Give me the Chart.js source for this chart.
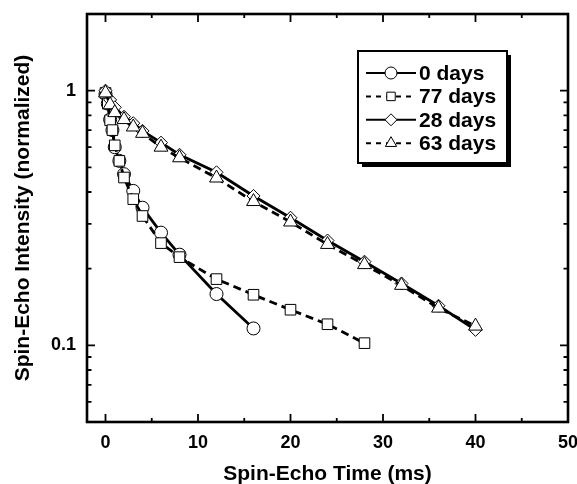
<!DOCTYPE html>
<html><head><meta charset="utf-8">
<script src="https://cdn.jsdelivr.net/npm/chart.js@4/dist/chart.umd.min.js"></script>
<style>html,body{margin:0;padding:0;background:#fff}</style>
</head><body>
<canvas id="c" width="577" height="484"></canvas>
<script>
// ---- data ----
const seriesLabels = ['0 days', '77 days', '28 days', '63 days'];
const t0  = [0, 0.25, 0.5, 0.75, 1, 1.5, 2, 3, 4, 6, 8, 12, 16];
const v0  = [0.97, 0.89, 0.77, 0.70, 0.60, 0.53, 0.47, 0.404, 0.347, 0.277, 0.227, 0.159, 0.1165];
const t77 = [0, 0.25, 0.5, 0.75, 1, 1.5, 2, 3, 4, 6, 8, 12, 16, 20, 24, 28];
const v77 = [0.98, 0.89, 0.765, 0.70, 0.61, 0.53, 0.456, 0.375, 0.322, 0.252, 0.222, 0.182, 0.158, 0.138, 0.121, 0.102];
const t28 = [0, 0.5, 1, 2, 3, 4, 6, 8, 12, 16, 20, 24, 28, 32, 36, 40];
const v28 = [1.0, 0.92, 0.86, 0.79, 0.745, 0.695, 0.625, 0.56, 0.478, 0.386, 0.317, 0.258, 0.213, 0.175, 0.143, 0.115];
const t63 = [0, 0.5, 1, 2, 3, 4, 6, 8, 12, 16, 20, 24, 28, 32, 36, 40];
const v63 = [0.98, 0.88, 0.82, 0.77, 0.72, 0.68, 0.60, 0.545, 0.454, 0.367, 0.305, 0.249, 0.2075, 0.172, 0.140, 0.119];
const xTickValues = [0, 10, 20, 30, 40, 50];
const yTickValues = [0.1, 1];
const yTickLabels = ['0.1', '1'];

const FAMILY = 'Arial, "Liberation Sans", Helvetica, sans-serif';
const pts = (t, v) => t.map((x, i) => ({x: x, y: v[i]}));

const styles = [
  {pointStyle: 'circle',   radius: 6.5, dash: [],     lr: 6},
  {pointStyle: 'rect',     radius: 7.5, dash: [8, 5], lr: 6},
  {pointStyle: 'rectRot',  radius: 6.5, dash: [],     lr: 6},
  {pointStyle: 'triangle', radius: 8,   dash: [8, 5], lr: 6.5}
];
const series = [pts(t0, v0), pts(t77, v77), pts(t28, v28), pts(t63, v63)];

const datasets = series.map((d, i) => ({
  label: seriesLabels[i],
  data: d,
  order: 4 - i,
  borderColor: '#000',
  borderWidth: 2.8,
  borderDash: styles[i].dash,
  tension: 0,
  fill: false,
  pointStyle: styles[i].pointStyle,
  pointRadius: styles[i].radius,
  pointBackgroundColor: '#fff',
  pointBorderColor: '#000',
  pointBorderWidth: 1,
  legendRadius: styles[i].lr
}));

function marker(c, style, r, x, y) {
  c.beginPath();
  if (style === 'circle') {
    c.arc(x, y, r, 0, Math.PI * 2);
  } else if (style === 'rect') {
    const s = r * Math.SQRT1_2;
    c.rect(x - s, y - s, 2 * s, 2 * s);
  } else if (style === 'rectRot') {
    c.moveTo(x - r, y); c.lineTo(x, y - r); c.lineTo(x + r, y); c.lineTo(x, y + r); c.closePath();
  } else if (style === 'triangle') {
    c.moveTo(x, y - r);
    c.lineTo(x + Math.sin(2 * Math.PI / 3) * r, y - Math.cos(2 * Math.PI / 3) * r);
    c.lineTo(x + Math.sin(4 * Math.PI / 3) * r, y - Math.cos(4 * Math.PI / 3) * r);
    c.closePath();
  }
  c.fillStyle = '#fff'; c.fill();
  c.strokeStyle = '#000'; c.lineWidth = 1; c.stroke();
}

const framePlugin = {
  id: 'frameTicks',
  afterDraw(chart) {
    const c = chart.ctx, a = chart.chartArea, x = chart.scales.x, y = chart.scales.y;
    c.save();
    c.strokeStyle = '#000';
    c.lineWidth = 1.8;
    c.beginPath();
    const xt = (v, len) => {
      const p = x.getPixelForValue(v);
      c.moveTo(p, a.bottom); c.lineTo(p, a.bottom - len);
      c.moveTo(p, a.top); c.lineTo(p, a.top + len);
    };
    const yt = (v, len) => {
      const p = y.getPixelForValue(v);
      c.moveTo(a.left, p); c.lineTo(a.left + len, p);
      c.moveTo(a.right, p); c.lineTo(a.right - len, p);
    };
    xTickValues.forEach(v => xt(v, 8));
    for (let k = 0; k < xTickValues.length - 1; k++) xt((xTickValues[k] + xTickValues[k + 1]) / 2, 4);
    yTickValues.forEach(v => yt(v, 8));
    [0.01, 0.1, 1].forEach(dec => {
      for (let m = 2; m <= 9; m++) {
        const v = dec * m;
        if (v > y.min && v < y.max) yt(v, 4.5);
      }
    });
    c.stroke();
    c.lineWidth = 2.6;
    c.strokeRect(a.left, a.top, a.right - a.left, a.bottom - a.top);
    c.restore();
  }
};

const legendPlugin = {
  id: 'boxLegend',
  afterDraw(chart) {
    const c = chart.ctx;
    const L = 358, T = 51, W = 149, H = 112;
    c.save();
    c.fillStyle = '#000';
    c.fillRect(L + 4, T + 4, W, H);
    c.fillStyle = '#fff';
    c.fillRect(L, T, W, H);
    c.lineWidth = 2;
    c.strokeStyle = '#000';
    c.strokeRect(L, T, W, H);
    chart.data.datasets.forEach((ds, i) => {
      const yy = 73 + i * 23.4;
      c.strokeStyle = '#000';
      c.lineWidth = 2;
      c.setLineDash(ds.borderDash.length ? [5, 5] : []);
      c.beginPath(); c.moveTo(366, yy); c.lineTo(416, yy); c.stroke();
      c.setLineDash([]);
      marker(c, ds.pointStyle, ds.legendRadius, 391, yy);
      c.fillStyle = '#000';
      c.font = 'bold 21px ' + FAMILY;
      c.textBaseline = 'middle';
      c.textAlign = 'left';
      c.fillText(ds.label, 419, yy + 1);
    });
    c.restore();
  }
};

Chart.defaults.color = '#000';
new Chart(document.getElementById('c'), {
  type: 'line',
  data: {datasets: datasets},
  options: {
    responsive: false,
    animation: false,
    devicePixelRatio: 1,
    layout: {padding: {top: 14, right: 9, left: 0, bottom: 0}},
    plugins: {legend: {display: false}, tooltip: {enabled: false}},
    scales: {
      x: {
        type: 'linear', min: -2, max: 50,
        grid: {display: false, drawTicks: false},
        border: {display: false},
        afterBuildTicks: s => { s.ticks = xTickValues.map(v => ({value: v})); },
        afterFit: s => { s.height = 62; s.paddingLeft = 0; s.paddingRight = 0; },
        ticks: {
          font: {size: 18, weight: 'bold', family: FAMILY}, color: '#000',
          padding: 10, maxRotation: 0, autoSkip: false,
          callback: (v) => String(v)
        },
        title: {
          display: true, text: 'Spin-Echo Time (ms)', color: '#000',
          font: {size: 21, weight: 'bold', family: FAMILY, lineHeight: 0.6},
          padding: {top: 0, bottom: 3}
        }
      },
      y: {
        type: 'logarithmic', min: 0.05, max: 2,
        grid: {display: false, drawTicks: false},
        border: {display: false},
        afterBuildTicks: s => { s.ticks = yTickValues.map(v => ({value: v})); },
        afterFit: s => { s.width = 87; s.paddingTop = 0; s.paddingBottom = 0; },
        ticks: {
          font: {size: 18, weight: 'bold', family: FAMILY}, color: '#000',
          padding: 11, autoSkip: false,
          callback: (v, i) => yTickLabels[i]
        },
        title: {
          display: true, text: 'Spin-Echo Intensity (normalized)', color: '#000',
          font: {size: 21, weight: 'bold', family: FAMILY, lineHeight: 1.2},
          padding: {top: 11, bottom: 0}
        }
      }
    }
  },
  plugins: [framePlugin, legendPlugin]
});
</script>
</body></html>
